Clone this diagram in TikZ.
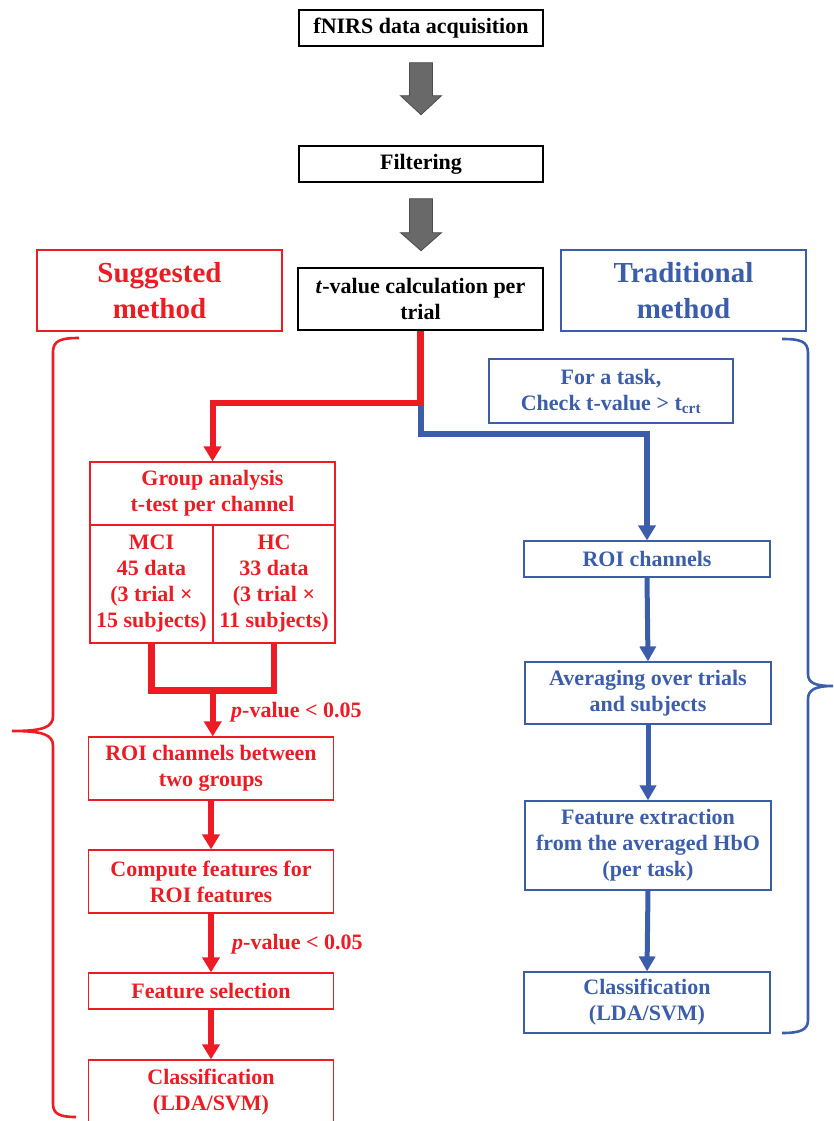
\documentclass[tikz,border=0pt]{standalone}
\usepackage{fontspec}
\setmainfont{Liberation Serif}
\usetikzlibrary{arrows.meta,calc}
\definecolor{myred}{RGB}{237,28,36}
\definecolor{myblue}{RGB}{60,94,170}
\definecolor{arrgray}{RGB}{105,105,105}
\tikzset{
  body/.style={font=\fontsize{22}{26}\selectfont\bfseries, align=center, inner sep=0pt},
  blackbox/.style={body, draw=black, line width=1.4pt, text=black},
  redbox/.style={body, draw=myred, line width=1.2pt, text=myred},
  bluebox/.style={body, draw=myblue, line width=1.2pt, text=myblue},
  titlefont/.style={font=\fontsize{29}{36}\selectfont\bfseries},
  redconn/.style={draw=myred, line width=6.5pt},
  redarr/.style={draw=myred, line width=6pt, -{Triangle[width=17pt,length=15pt]}},
  bluearr/.style={draw=myblue, line width=5pt, -{Triangle[width=16pt,length=15pt]}},
  blockarrow/.style={fill=arrgray, draw=gray!60!black, line width=0.8pt},
  plabel/.style={font=\fontsize{22}{26}\selectfont\bfseries, text=myred, anchor=west, inner sep=0pt},
}
\begin{document}
\begin{tikzpicture}[x=1pt,y=-1pt]
\path[use as bounding box] (0,0) rectangle (833,1121);

% top column
\node[blackbox, minimum width=244pt, minimum height=36pt] (fnirs) at (421,28) {fNIRS data acquisition};
\node[blackbox, minimum width=244pt, minimum height=36pt] (filt) at (421,164) {Filtering};
\node[blackbox, minimum width=245pt, minimum height=62pt] (tval) at (420.5,299) {\textit{t}-value calculation per\\trial};

% block arrows
\draw[blockarrow] ($(fnirs.south)+(-11.5,16)$) -- ++(23,0) -- ++(0,33) -- ++(9,0) -- ++(-20.5,19) -- ++(-20.5,-19) -- ++(9,0) -- cycle;
\draw[blockarrow] ($(filt.south)+(-11.5,16)$) -- ++(23,0) -- ++(0,34) -- ++(9,0) -- ++(-20.5,18) -- ++(-20.5,-18) -- ++(9,0) -- cycle;

% titles
\node[redbox, titlefont, minimum width=245pt, minimum height=81pt] (sugg) at (159.5,290.5) {Suggested\\method};
\node[bluebox, titlefont, minimum width=245pt, minimum height=81pt] (trad) at (683.5,290.5) {Traditional\\method};

% traditional branch
\node[bluebox, minimum width=244pt, minimum height=64pt] (task) at (611,391) {For a task,\\Check t-value > t\textsubscript{crt}};
\node[bluebox, minimum width=246pt, minimum height=36pt] (roiB) at (647,559) {ROI channels};
\node[bluebox, minimum width=246pt, minimum height=62pt] (avg) at (648,693) {Averaging over trials\\and subjects};
\node[bluebox, minimum width=246pt, minimum height=89pt] (fext) at (648,845.5) {Feature extraction\\from the averaged HbO\\(per task)};
\node[bluebox, minimum width=246pt, minimum height=61pt] (cls2) at (647,1002.5) {Classification\\(LDA/SVM)};

% suggested branch
\node[redbox, minimum width=245pt, minimum height=63pt] (grp) at (212.5,493.5) {Group analysis\\t-test per channel};
\node[redbox, minimum width=123pt, minimum height=118pt] (mci) at (151.5,584) {MCI\\45 data\\(3 trial ×\\15 subjects)};
\node[redbox, minimum width=122pt, minimum height=118pt] (hc) at (274,584) {HC\\33 data\\(3 trial ×\\11 subjects)};
\node[redbox, minimum width=245pt, minimum height=63pt] (roi2) at (211,768.5) {ROI channels between\\two groups};
\node[redbox, minimum width=245pt, minimum height=63pt] (comp) at (211,881.5) {Compute features for\\ROI features};
\node[redbox, minimum width=245pt, minimum height=36pt] (fsel) at (211,991) {Feature selection};
\node[redbox, minimum width=245pt, minimum height=64pt] (cls1) at (211,1092) {Classification\\(LDA/SVM)};

% connectors from t-value
\coordinate (split) at ($(tval.south)+(0,72)$);
\draw[draw=myblue, line width=6pt, -{Triangle[width=17pt,length=15pt]}] ($(split)+(0,-3)$) -- ($(tval.south)+(0,103)$) -| (roiB.north);
\draw[redconn] (tval.south) -- (split);
\draw[redarr] ($(split)+(3.25,0)$) -| (grp.north);

% group join
\coordinate (join) at ($(mci.south)!0.5!(hc.south)+(0,47)$);
\draw[redconn, line join=miter] (mci.south) |- (join) -| (hc.south);
\draw[redarr] (join) -- (join |- roi2.north);
\node[plabel] (p1) at (231,712) {\textit{p}-value < 0.05};

\draw[redarr] (roi2.south) -- (comp.north);
\draw[redarr] (comp.south) -- (fsel.north);
\node[plabel] (p2) at (232,944) {\textit{p}-value < 0.05};
\draw[redarr] (fsel.south) -- (cls1.north);

\draw[bluearr] (roiB.south) -- (avg.north);
\draw[bluearr] (avg.south) -- (fext.north);
\draw[bluearr] (fext.south) -- (cls2.north);

% braces
\draw[myred, line width=2.6pt] (79,338) .. controls (62,338) and (53,340) .. (53,352) -- (53,716) .. controls (53,727) and (44,731) .. (12,731) .. controls (44,731) and (53,735) .. (53,746) -- (53,1104) .. controls (53,1114) and (60,1117) .. (76,1117);
\draw[myblue, line width=2.6pt] (782,339) .. controls (800,339) and (808,341) .. (808,353) -- (808,674) .. controls (808,683) and (815,686) .. (833,686) .. controls (815,686) and (808,690) .. (808,699) -- (808,1020) .. controls (808,1030) and (800,1033) .. (782,1033);
\end{tikzpicture}
\end{document}
